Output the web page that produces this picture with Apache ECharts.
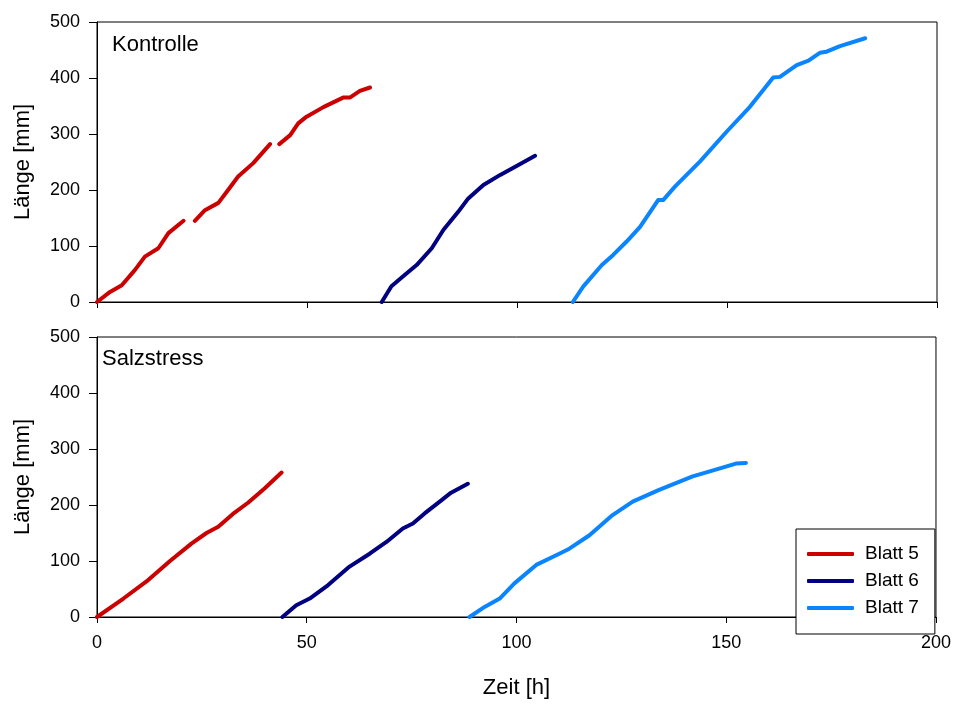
<!DOCTYPE html>
<html>
<head>
<meta charset="utf-8">
<script src="https://cdn.jsdelivr.net/npm/echarts@6/dist/echarts.min.js"></script>
<style>html,body{margin:0;padding:0;background:#fff}#c{width:954px;height:704px}</style>
</head>
<body>
<div id="c"></div>
<script>
// Kontrolle (top panel)
var k5_t = [0, 3.1, 5.9, 9.0, 11.4, 14.6, 17.0, 20.6, null, 23.3, 25.7, 28.9, 30.9, 33.6, 37.2, 39.2, 41.2, null, 43.4, 46.0, 47.9, 49.9, 53.9, 58.6, 60.2, 62.6, 65.0];
var k5_v = [0, 18, 30, 57, 81, 96, 123, 145, null, 145, 164, 177, 197, 224, 248, 265, 282, null, 282, 298, 319, 331, 348, 365, 365, 377, 383];
var k6_t = [67.8, 70.1, 72.9, 76.1, 79.7, 82.5, 86.0, 88.4, 92.0, 96.0, 99.9, 104.3];
var k6_v = [0, 28, 46, 66, 96, 129, 161, 185, 209, 227, 243, 261];
var k7_t = [113.3, 115.8, 120.2, 122.9, 126.1, 129.3, 133.6, 134.8, 137.6, 143.6, 149.9, 155.5, 161.0, 162.6, 166.6, 169.4, 172.1, 173.7, 176.9, 182.9];
var k7_v = [0, 28, 66, 84, 108, 134, 182, 182, 206, 251, 304, 349, 401, 402, 423, 431, 445, 447, 457, 471];
// Salzstress (bottom panel)
var s5_t = [0, 6.3, 12.2, 17.4, 22.5, 26.1, 28.9, 32.4, 36.0, 40.0, 44.0];
var s5_v = [0, 33, 66, 100, 131, 150, 161, 184, 204, 230, 258];
var s6_t = [44.2, 47.5, 50.7, 55.1, 60.2, 65.0, 69.0, 72.9, 75.3, 78.1, 81.7, 84.4, 88.4];
var s6_v = [0, 21, 33, 57, 90, 113, 134, 158, 167, 185, 206, 222, 238];
var s7_t = [88.8, 92.4, 96.0, 99.5, 104.7, 110.2, 112.6, 117.4, 122.9, 127.7, 134.0, 142.0, 148.3, 152.3, 154.7];
var s7_v = [0, 18, 33, 60, 93, 113, 122, 146, 182, 206, 227, 251, 265, 274, 275];

var names = ['Blatt 5', 'Blatt 6', 'Blatt 7'];
var colors = ['#CC0000', '#000080', '#0A84FF'];
var panelLabels = ['Kontrolle', 'Salzstress'];

function pairs(t, v) {
  return t.map(function (x, i) { return (x === null || v[i] === null) ? [null, null] : [x, v[i]]; });
}

var FONT = '"Liberation Sans", Arial, sans-serif';
var chart = echarts.init(document.getElementById('c'), null, { renderer: 'canvas' });

function xAxis(gi, showLabel) {
  return {
    type: 'value', gridIndex: gi, min: 0, max: 200, interval: 50,
    axisLine: { show: true, onZero: false, lineStyle: { color: '#000', width: 1 } },
    axisTick: { show: true, inside: false, length: 6, lineStyle: { color: '#000' } },
    axisLabel: { show: showLabel, margin: 17, color: '#000', fontSize: 18, fontFamily: FONT },
    splitLine: { show: false },
    name: showLabel ? 'Zeit [h]' : '', nameLocation: 'middle', nameGap: 60,
    nameTextStyle: { color: '#000', fontSize: 22, fontFamily: FONT }
  };
}
function yAxis(gi) {
  return {
    type: 'value', gridIndex: gi, min: 0, max: 500, interval: 100,
    axisLine: { show: true, lineStyle: { color: '#000', width: 1 } },
    axisTick: { show: true, inside: false, length: 8, lineStyle: { color: '#000' } },
    axisLabel: { margin: 17, color: '#000', fontSize: 18, fontFamily: FONT },
    splitLine: { show: false },
    name: 'Länge [mm]', nameLocation: 'middle', nameGap: 63, nameRotate: 90,
    nameTextStyle: { color: '#000', fontSize: 22, fontFamily: FONT }
  };
}
function ser(name, gi, t, v, ci) {
  return {
    name: name, type: 'line', xAxisIndex: gi, yAxisIndex: gi,
    data: pairs(t, v), showSymbol: false, symbol: 'none', connectNulls: false,
    lineStyle: { color: colors[ci], width: 4, cap: 'round', join: 'round' },
    itemStyle: { color: colors[ci] }, animation: false
  };
}

var option = {
  animation: false,
  backgroundColor: '#fff',
  grid: [
    { left: 97, top: 22, width: 840, height: 280, show: true, borderColor: '#000', borderWidth: 1, backgroundColor: 'transparent' },
    { left: 97, top: 337, width: 840, height: 280, show: true, borderColor: '#000', borderWidth: 1, backgroundColor: 'transparent' }
  ],
  xAxis: [xAxis(0, false), xAxis(1, true)],
  yAxis: [yAxis(0), yAxis(1)],
  legend: {
    data: names, orient: 'vertical', left: 796, top: 529,
    backgroundColor: '#fff', borderColor: '#000', borderWidth: 1,
    padding: [14, 16, 15, 11], itemGap: 5, itemWidth: 47, itemHeight: 4,
    icon: 'roundRect',
    textStyle: { color: '#000', fontSize: 19, fontFamily: FONT, lineHeight: 22, padding: [0, 0, 0, 6] }
  },
  graphic: [
    { type: 'text', left: 112, top: 34, style: { text: panelLabels[0], fill: '#000', font: '22px ' + FONT } },
    { type: 'text', left: 102, top: 348, style: { text: panelLabels[1], fill: '#000', font: '22px ' + FONT } }
  ],
  series: [
    ser(names[0], 0, k5_t, k5_v, 0),
    ser(names[1], 0, k6_t, k6_v, 1),
    ser(names[2], 0, k7_t, k7_v, 2),
    ser(names[0], 1, s5_t, s5_v, 0),
    ser(names[1], 1, s6_t, s6_v, 1),
    ser(names[2], 1, s7_t, s7_v, 2)
  ]
};
chart.setOption(option);
</script>
</body>
</html>
